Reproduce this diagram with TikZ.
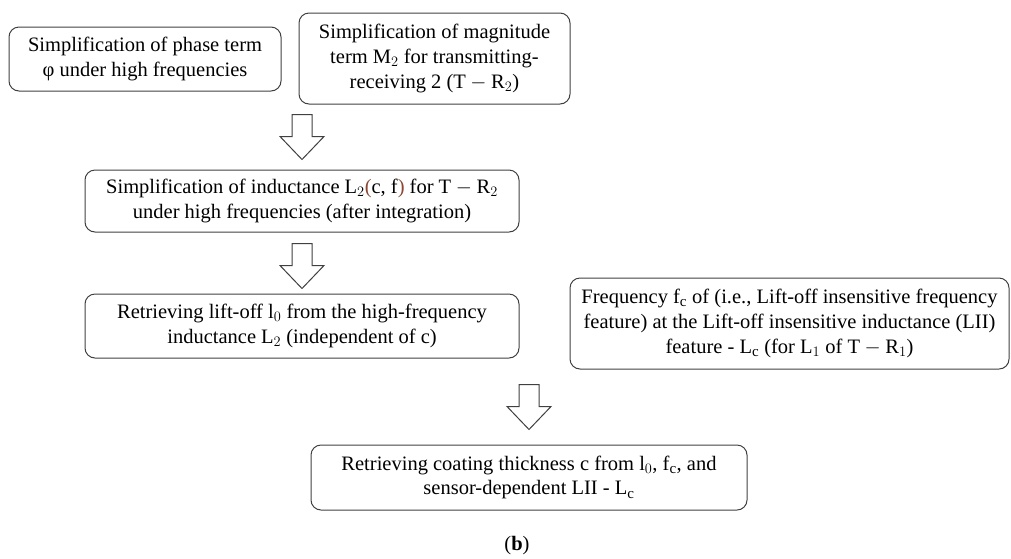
\documentclass[tikz,border=0pt]{standalone}
\usepackage{fontspec}
\setmainfont{Liberation Serif}
\usepackage{xcolor}
\usepackage{tikz}
\usetikzlibrary{
    positioning,
    calc
}
\definecolor{parenbrown}{RGB}{140,70,50}
\DeclareMathSizes{20.5}{20.5}{15}{11}
\tikzset{
    stepbox/.style={
        draw=black!75,
        line width=1pt,
        rounded corners=10pt,
        align=center,
        inner sep=0pt,
        font=\fontsize{20.5}{24.8}\selectfont
    }
}
\tikzset{
    blockarrow/.style={
        draw=black!75,
        line width=1pt,
        fill=white,
        line join=miter
    }
}
\newcommand{\hollowarrow}[1]{%
    \draw[blockarrow] #1 -- ++(-22,-23) -- ++(12,0) -- ++(0,-22)
        -- ++(20,0) -- ++(0,22) -- ++(12,0) -- cycle;%
}

\begin{document}
\begin{tikzpicture}[
    x=1pt, y=-1pt
]
\useasboundingbox (0,0) rectangle (1011,558);

% ------------------------------------------------------------
% Simplifications
% ------------------------------------------------------------

\node[stepbox, minimum width=272pt, minimum height=64pt] (phase) at (145,59)
    {Simplification of phase term\\φ under high frequencies};
\node[stepbox, minimum width=271pt, minimum height=91pt] (magn) at (434.5,58.5)
    {Simplification of magnitude\\term $\mathrm{M}_2$ for transmitting-\\receiving 2 ($\mathrm{T}-\mathrm{R}_2$)};

\node[stepbox, minimum width=434pt, minimum height=62pt] (induct) at (302,201)
    {Simplification of inductance $\mathrm{L}_2$\textcolor{parenbrown}{(}c, f\textcolor{parenbrown}{)} for $\mathrm{T}-\mathrm{R}_2$\\under high frequencies (after integration)};

% ------------------------------------------------------------
% Retrieving
% ------------------------------------------------------------

\node[stepbox, minimum width=434pt, minimum height=64pt] (liftoff) at (302,326)
    {Retrieving lift-off $\mathrm{l}_0$ from the high-frequency\\inductance $\mathrm{L}_2$ (independent of c)};
\node[stepbox, minimum width=439pt, minimum height=91pt] (freq) at (789.5,323.5)
    {Frequency $\mathrm{f}_\mathrm{c}$ of (i.e., Lift-off insensitive frequency\\feature) at the Lift-off insensitive inductance (LII)\\feature - $\mathrm{L}_\mathrm{c}$ (for $\mathrm{L}_1$ of $\mathrm{T}-\mathrm{R}_1$)};

\node[stepbox, minimum width=436pt, minimum height=65pt] (coat) at (529,477.5)
    {Retrieving coating thickness c from $\mathrm{l}_0$, $\mathrm{f}_\mathrm{c}$, and\\sensor-dependent LII - $\mathrm{L}_\mathrm{c}$};

% ------------------------------------------------------------
% Block arrows
% ------------------------------------------------------------

\hollowarrow{($(induct.north)+(0,-10)$)}
\hollowarrow{($(liftoff.north)+(0,-5)$)}
\hollowarrow{($(coat.north)+(0,-15)$)}

\node[font=\fontsize{20.5}{24.8}\selectfont] (caption) at (517,546) {(\textbf{b})};

\end{tikzpicture}
\end{document}
